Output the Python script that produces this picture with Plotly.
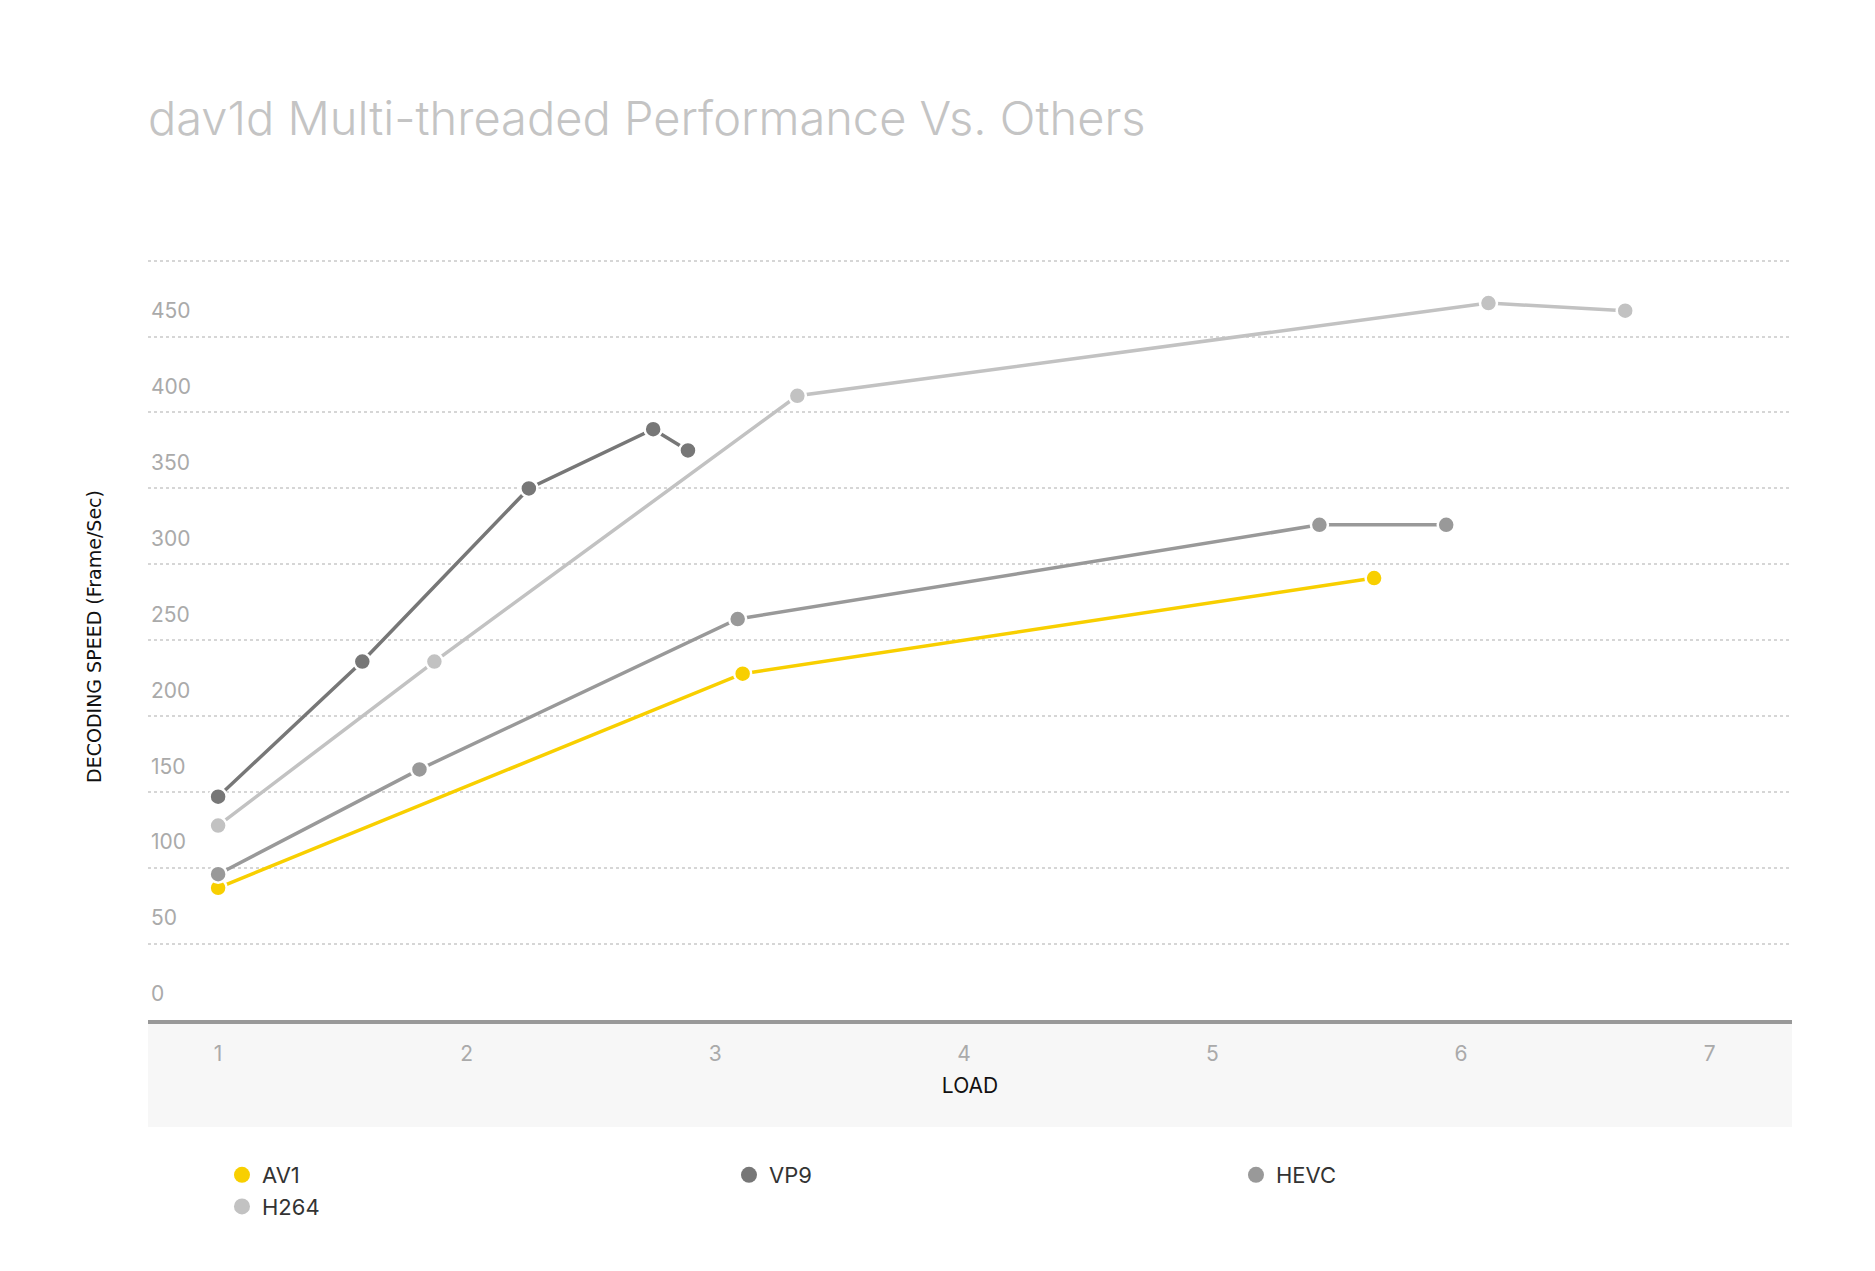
import plotly.graph_objects as go

#----- DATA --------------------------------------------------------------------
series_names = ['AV1', 'VP9', 'HEVC', 'H264']
series_colors = ['#f8cf00', '#777777', '#999999', '#c2c2c2']

av1_load = [1, 3.11, 5.65]
av1_fps = [87, 228, 291]
vp9_load = [1, 1.58, 2.25, 2.75, 2.89]
vp9_fps = [147, 236, 350, 389, 375]
hevc_load = [1, 1.81, 3.09, 5.43, 5.94]
hevc_fps = [96, 165, 264, 326, 326]
h264_load = [1, 1.87, 3.33, 6.11, 6.66]
h264_fps = [128, 236, 411, 472, 467]

x_ticks = [1, 2, 3, 4, 5, 6, 7]
y_ticks = [0, 50, 100, 150, 200, 250, 300, 350, 400, 450, 500]

loads = [av1_load, vp9_load, hevc_load, h264_load]
fps = [av1_fps, vp9_fps, hevc_fps, h264_fps]

#----- PLOT --------------------------------------------------------------------
fig = go.Figure()
for name, color, xs, ys in zip(series_names, series_colors, loads, fps):
    fig.add_trace(go.Scatter(
        x=xs, y=ys, name=name, mode='lines+markers', showlegend=False,
        line=dict(color=color, width=3.5),
        marker=dict(color=color, size=17, line=dict(color='white', width=2.5)),
    ))
# legend shows just a dot per series
for name, color in zip(series_names, series_colors):
    fig.add_trace(go.Scatter(
        x=[None], y=[None], name=name, mode='markers',
        marker=dict(color=color, size=26),
    ))

fig.update_layout(
    width=1875, height=1271,
    plot_bgcolor='white', paper_bgcolor='white',
    font=dict(family='Inter', color='#aaaaaa'),
    margin=dict(l=140, r=91, t=245, b=259, autoexpand=False),
    title=dict(
        text='dav1d Multi-threaded Performance Vs. Others',
        x=140 / 1875, xanchor='left', y=1 - 111 / 1271, yanchor='middle',
        font=dict(family='Inter', size=47, color='#c4c4c4', weight=300),
    ),
    legend=dict(
        orientation='h', x=0.045, xanchor='left', y=-0.223, yanchor='middle',
        entrywidth=462, font=dict(size=22, color='#333333'),
    ),
    xaxis=dict(
        range=[0.718, 7.331], tickvals=x_ticks, showgrid=False, zeroline=False,
        showline=True, linecolor='#999999', linewidth=4, automargin=False,
        tickfont=dict(size=21, color='#aaaaaa'), ticks='', ticklabelstandoff=12,
        title=dict(text='LOAD', font=dict(size=21, color='#111111'), standoff=14),
    ),
    yaxis=dict(
        range=[0, 505], tickvals=y_ticks, zeroline=False, automargin=False,
        showgrid=True, gridcolor='#d6d6d6', griddash='dot', gridwidth=2,
        ticklabelposition='inside', ticklabelshift=-26,
        tickfont=dict(size=21, color='#aaaaaa'),
        title=dict(text='DECODING SPEED (Frame/Sec)',
                   font=dict(size=19, color='#111111', family='DejaVu Sans'),
                   standoff=44),
    ),
)

# light grey band behind the x axis labels
fig.add_shape(
    type='rect', xref='paper', yref='paper', x0=0, x1=1, y0=-0.1395, y1=0,
    fillcolor='#f7f7f7', line_width=0, layer='below',
)

fig.write_html('out.html')
